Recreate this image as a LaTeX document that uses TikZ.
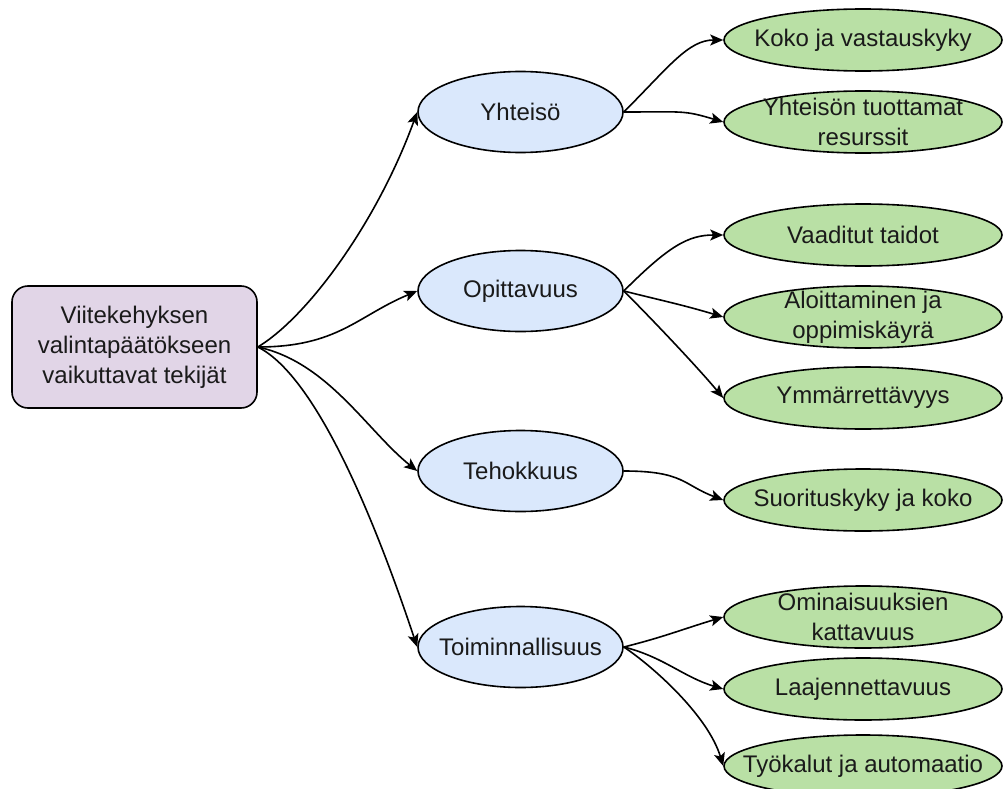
\documentclass[tikz,border=0pt]{standalone}
\usepackage{fontspec}
\setmainfont{Liberation Sans}
\usetikzlibrary{shapes.geometric,arrows.meta}
\definecolor{rootfill}{HTML}{E1D5E7}
\definecolor{bluefill}{HTML}{DAE8FC}
\definecolor{greenfill}{HTML}{B9E0A5}
\definecolor{txtcol}{HTML}{1A1A1A}
\begin{document}
\begin{tikzpicture}[x=1pt,y=1pt,
  txt/.style={font=\fontsize{24}{30}\selectfont, align=center, text=txtcol, inner sep=0pt},
  rootbox/.style={draw, line width=1.6pt, rounded corners=16pt, fill=rootfill, minimum width=245pt, minimum height=122pt, inner sep=0pt, txt},
  bluebox/.style={ellipse, draw, line width=1.6pt, fill=bluefill, minimum width=205pt, minimum height=81pt, inner sep=0pt, label={[txt]center:{#1}}},
  greenbox/.style={ellipse, draw, line width=1.6pt, fill=greenfill, minimum width=278pt, minimum height=62pt, inner sep=0pt, label={[txt]center:{#1}}},
  conn/.style={line width=1.6pt, -{Stealth[length=13pt,width=11pt,inset=3pt]}}
]
\useasboundingbox (0,0) rectangle (1003,-789);

\node[rootbox] (root) at (134.5,-347) {Viitekehyksen\\valintapäätökseen\\vaikuttavat tekijät};

\node[bluebox={Yhteisö}] (yh) at (520.5,-112) {};
\node[bluebox={Opittavuus}] (op) at (520.5,-291) {};
\node[bluebox={Tehokkuus}] (te) at (520.5,-471) {};
\node[bluebox={Toiminnallisuus}] (to) at (520.5,-647) {};

\node[greenbox={Koko ja vastauskyky}] (g1) at (863,-40) {};
\node[greenbox={Yhteisön tuottamat\\resurssit}] (g2) at (863,-122) {};
\node[greenbox={Vaaditut taidot}] (g3) at (863,-235) {};
\node[greenbox={Aloittaminen ja\\oppimiskäyrä}] (g4) at (863,-317) {};
\node[greenbox={Ymmärrettävyys}] (g5) at (863,-398) {};
\node[greenbox={Suorituskyky ja koko}] (g6) at (863,-500) {};
\node[greenbox={Ominaisuuksien\\kattavuus}] (g7) at (863,-617) {};
\node[greenbox={Laajennettavuus}] (g8) at (863,-689) {};
\node[greenbox={Työkalut ja automaatio}] (g9) at (863,-766) {};

\draw[conn] (root.east) .. controls +(50,30) and +(-40,-110) .. (yh.west);
\draw[conn] (root.east) .. controls +(80,0) and +(-60,-25) .. (op.west);
\draw[conn] (root.east) .. controls +(70,-15) and +(-50,40) .. (te.west);
\draw[conn] (root.east) .. controls +(60,-30) and +(-40,120) .. (to.west);

\draw[conn] (yh.east) .. controls +(45,45) and +(-35,0) .. (g1.west);
\draw[conn] (yh.east) .. controls +(60,0) and +(-40,12) .. (g2.west);
\draw[conn] (op.east) .. controls +(45,45) and +(-35,0) .. (g3.west);
\draw[conn] (op.east) .. controls +(40,-10) and +(-40,12) .. (g4.west);
\draw[conn] (op.east) .. controls +(30,-30) and +(-25,30) .. (g5.west);
\draw[conn] (te.east) .. controls +(60,0) and +(-40,15) .. (g6.west);
\draw[conn] (to.east) .. controls +(40,10) and +(-40,-12) .. (g7.west);
\draw[conn] (to.east) .. controls +(40,-10) and +(-40,12) .. (g8.west);
\draw[conn] (to.east) .. controls +(30,-20) and +(-15,50) .. (g9.west);
\end{tikzpicture}
\end{document}
